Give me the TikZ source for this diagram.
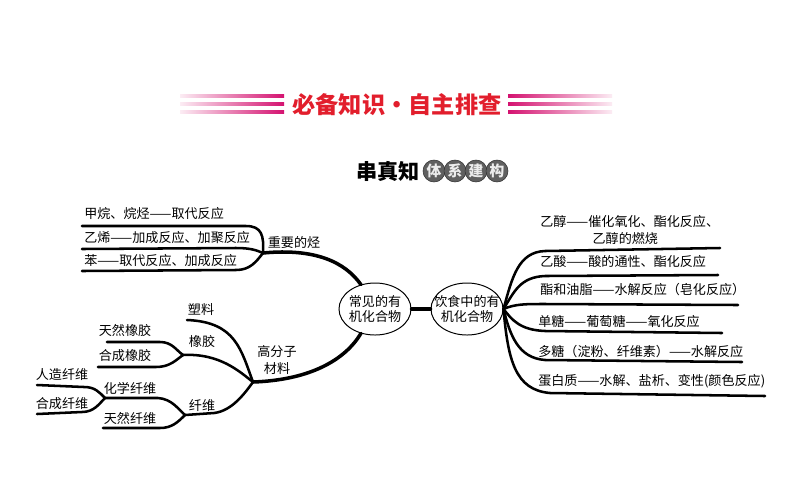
\documentclass[tikz,border=0pt]{standalone}
\usepackage{fontspec}
\newfontfamily\cjk{Noto Sans CJK SC}
\usetikzlibrary{shapes.geometric}
\definecolor{hdred}{RGB}{226,30,44}
\definecolor{hdpink}{RGB}{212,18,112}
\tikzset{
  br/.style={line width=2.5pt, line cap=round},
  lf/.style={line width=1.8pt, line cap=round},
  txt/.style={anchor=west, inner sep=0pt, font=\cjk\fontsize{9.3}{11.5}\selectfont},
  lbl/.style={inner sep=0pt, align=center, font=\cjk\fontsize{9.3}{11.5}\selectfont},
  oval/.style={ellipse, draw, line width=0.7pt, minimum width=1.8cm, minimum height=1.3cm,
    inner xsep=-9pt, inner ysep=0pt, align=center, font=\cjk\fontsize{9.3}{11}\selectfont},
  bub/.style={circle, fill=gray!75!black, draw=gray!40!black, minimum size=0.55cm,
    inner sep=0pt, text=gray!15, font=\cjk\bfseries\fontsize{10.5}{10.5}\selectfont}
}

\begin{document}
\begin{tikzpicture}[x=0.025cm, y=-0.025cm]
  \path[fill=white, use as bounding box] (0,0) rectangle (794,495);

  \node[font=\cjk\bfseries\fontsize{16.5}{16.5}\selectfont, text=hdred, inner sep=0pt] (title) at (397,105) {必备知识·自主排查};
  \foreach \y in {96,104,112}{
    \shade[left color=hdpink!8, right color=hdpink] (180,\y-1.4) rectangle (284,\y+1.4);
    \shade[left color=hdpink, right color=hdpink!8] (508,\y-1.4) rectangle (612,\y+1.4);
  }
  \node[font=\cjk\bfseries\fontsize{15}{15}\selectfont, inner sep=0pt] (chz) at (388,171) {串真知};
  \node[bub] (b1) at (434,171) {体};
  \node[bub] (b2) at (455,171) {系};
  \node[bub] (b3) at (476,171) {建};
  \node[bub] (b4) at (497,171) {构};

  \node[oval] (orgc) at (375,309) {常见的有\\机化合物};
  \node[oval] (food) at (467,309) {饮食中的有\\机化合物};
  \draw[br] (orgc) -- (food);

  \coordinate (hc) at (263,253);
  \coordinate (pm) at (253,382);
  \coordinate (rb) at (183,355);
  \coordinate (fb) at (185,415);
  \coordinate (cf) at (105,398);
  \coordinate (fan) at (food.east);

  \draw[br] (hc) .. controls (315,248) and (345,262) .. (orgc.120);
  \draw[br] (pm) .. controls (310,380) and (345,360) .. (orgc.240);

  \draw[lf] (hc) .. controls (264,236) and (262,226) .. (246,226) -- (82,226);
  \draw[lf] (hc) .. controls (256,250) and (250,248) .. (236,248) -- (82,249);
  \draw[lf] (hc) .. controls (256,262) and (250,270) .. (236,270) -- (82,271);
  \node[txt] (ch4) at (84,214) {甲烷、烷烃——取代反应};
  \node[txt] (c2h4) at (84,238) {乙烯——加成反应、加聚反应};
  \node[txt] (bz) at (84,261) {苯——取代反应、加成反应};
  \node[lbl] (hcl) at (294,243) {重要的烃};

  \node[lbl] (pml) at (277,360) {高分子\\材料};
  \draw[lf] (pm) .. controls (241,350) and (236,322) .. (187,320);
  \node[lbl] (plas) at (201,310) {塑料};
  \draw[lf] (rb) .. controls (220,353) and (240,372) .. (pm);
  \node[lbl] (rub) at (202,342) {橡胶};
  \draw[lf] (rb) .. controls (176,350) and (172,342) .. (160,342) -- (107,342);
  \draw[lf] (rb) .. controls (176,360) and (170,367) .. (156,367) -- (98,367);
  \node[lbl] (nrub) at (125,331) {天然橡胶};
  \node[lbl] (srub) at (125,356) {合成橡胶};
  \draw[lf] (fb) -- (214,413) .. controls (232,411) and (245,393) .. (pm);
  \node[lbl] (fib) at (202,406) {纤维};
  \draw[lf] (fb) .. controls (178,409) and (172,399) .. (158,398) -- (cf);
  \draw[lf] (fb) .. controls (178,422) and (172,428) .. (160,428) -- (103,428);
  \node[lbl] (chf) at (130,388) {化学纤维};
  \node[lbl] (nf) at (130,418) {天然纤维};
  \draw[lf] (cf) .. controls (99,392) and (95,387) .. (84,387) -- (37,385);
  \draw[lf] (cf) .. controls (99,404) and (94,412) .. (82,412) -- (37,414);
  \node[lbl] (af) at (62,375) {人造纤维};
  \node[lbl] (sf) at (62,404) {合成纤维};

  \draw[lf] (fan) .. controls (512,278) and (518,252) .. (545,251) -- (720,248);
  \draw[lf] (fan) .. controls (514,292) and (520,277) .. (545,276) -- (718,275);
  \draw[lf] (fan) .. controls (515,304) and (525,304) .. (545,304) -- (738,305);
  \draw[lf] (fan) .. controls (512,320) and (520,330) .. (545,331) -- (722,333);
  \draw[lf] (fan) .. controls (510,335) and (518,358) .. (545,360) -- (742,362);
  \draw[lf] (fan) .. controls (508,360) and (515,390) .. (550,393) -- (765,396);
  \node[txt, align=left] (etoh) at (540,230) {乙醇——催化氧化、酯化反应、\\\hspace*{4em}乙醇的燃烧};
  \node[txt] (acid) at (540,262) {乙酸——酸的通性、酯化反应};
  \node[txt] (ester) at (540,290) {酯和油脂——水解反应（皂化反应）};
  \node[txt] (mono) at (538,322) {单糖——葡萄糖——氧化反应};
  \node[txt] (poly) at (538,352) {多糖（淀粉、纤维素）——水解反应};
  \node[txt] (prot) at (538,381) {蛋白质——水解、盐析、变性(颜色反应)};
\end{tikzpicture}
\end{document}
